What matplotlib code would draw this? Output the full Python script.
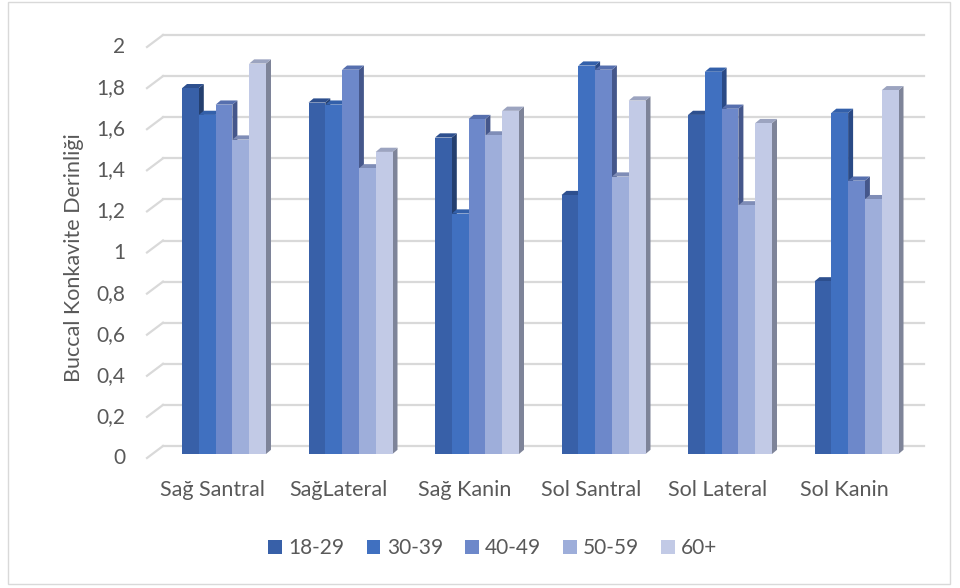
import matplotlib
matplotlib.use("Agg")
import matplotlib.pyplot as plt
from matplotlib.patches import Polygon, Rectangle, Patch
from matplotlib.lines import Line2D

plt.rcParams["font.family"] = ["Lato", "DejaVu Sans"]

# --- data -------------------------------------------------------------
categories = ["Sağ Santral", "SağLateral", "Sağ Kanin", "Sol Santral", "Sol Lateral", "Sol Kanin"]
age_groups = ["18-29", "30-39", "40-49", "50-59", "60+"]
v_18_29 = [1.78, 1.71, 1.54, 1.26, 1.65, 0.84]
v_30_39 = [1.65, 1.70, 1.17, 1.89, 1.86, 1.66]
v_40_49 = [1.70, 1.87, 1.63, 1.87, 1.68, 1.33]
v_50_59 = [1.53, 1.39, 1.55, 1.35, 1.21, 1.24]
v_60p = [1.90, 1.47, 1.67, 1.72, 1.61, 1.77]
series = [v_18_29, v_30_39, v_40_49, v_50_59, v_60p]
y_ticks = [0, 0.2, 0.4, 0.6, 0.8, 1.0, 1.2, 1.4, 1.6, 1.8, 2.0]
y_tick_labels = ["0", "0,2", "0,4", "0,6", "0,8", "1", "1,2", "1,4", "1,6", "1,8", "2"]

# --- styling ----------------------------------------------------------
front_col = ["#3860A8", "#4070C0", "#6D88CA", "#9EAEDA", "#C2CAE6"]
top_col = ["#2D4F8E", "#3360AA", "#566FAE", "#7F8DB7", "#9CA4C0"]
side_col = ["#243F6F", "#2A4A86", "#45578B", "#67729A", "#7E8499"]
text_col = "#595959"
grid_col = "#D9D9D9"
fs = 15

W, H = 960, 588
fig = plt.figure(figsize=(W / 100, H / 100), dpi=100)

# axes = plane of the bars' front faces (pixel geometry of the layout)
ax_left, ax_right = 160.75, 919.75
ax_bottom, ax_top = 454, 43
ax = fig.add_axes([ax_left / W, (H - ax_bottom) / H,
                   (ax_right - ax_left) / W, (ax_bottom - ax_top) / H])
ax.set_xlim(-0.5, len(categories) - 0.5)
ax.set_ylim(0, 2)
ax.axis("off")

px_per_x = (ax_right - ax_left) / len(categories)
px_per_y = (ax_bottom - ax_top) / 2.0

def y_px(v):
    """top-down pixel row of value v on the bar plane"""
    return ax_bottom - v * px_per_y

def fig_xy(x, y):
    return x / W, 1 - y / H

# back wall gridlines and side-wall stubs
wall_l, wall_r = 163, 924
stub_l = 147
for v, lab in zip(y_ticks, y_tick_labels):
    yb = y_px(v) - 8
    yf = y_px(v) + 4
    fig.add_artist(Line2D([wall_l / W, wall_r / W], [1 - yb / H, 1 - yb / H],
                          color=grid_col, lw=1.6, zorder=0))
    fig.add_artist(Line2D([stub_l / W, wall_l / W], [1 - yf / H, 1 - yb / H],
                          color=grid_col, lw=1.6, zorder=0))
    fig.text(*fig_xy(125, yf), lab, ha="right", va="center",
             fontsize=fs, color=text_col)

# 3D-look columns
n = len(series)
bw = 16.8 / px_per_x
ddx = 5.0 / px_per_x
ddy = 4.2 / px_per_y
for k, vals in enumerate(series):
    xs = [i + (k - (n - 1) / 2) * bw for i in range(len(categories))]
    ax.bar(xs, vals, width=bw, color=front_col[k], edgecolor="none",
           zorder=3, label=age_groups[k])
    for x, h in zip(xs, vals):
        x0, x1 = x - bw / 2, x + bw / 2
        ax.add_patch(Polygon([(x0, h), (x1, h), (x1 + ddx, h + ddy), (x0 + ddx, h + ddy)],
                             closed=True, facecolor=top_col[k], edgecolor="none", zorder=2.5))
        ax.add_patch(Polygon([(x1, 0), (x1 + ddx, ddy), (x1 + ddx, h + ddy), (x1, h)],
                             closed=True, facecolor=side_col[k], edgecolor="none", zorder=2))

# category labels
for i, c in enumerate(categories):
    ax.text(i - 12 / px_per_x, -36 / px_per_y, c, ha="center", va="center",
            fontsize=fs + 0.5, color=text_col, clip_on=False)

# axis title
fig.text(*fig_xy(74, 258), "Buccal Konkavite Derinliği", rotation=90,
         ha="center", va="center", fontsize=15.5, color=text_col)

# legend
handles = [Patch(facecolor=front_col[k], edgecolor="none") for k in range(n)]
fig.legend(handles, age_groups, loc="center", bbox_to_anchor=fig_xy(493, 548),
           ncol=n, frameon=False, fontsize=fs, labelcolor=text_col,
           handlelength=0.67, handleheight=0.67, handletextpad=0.3,
           columnspacing=1.05)

# chart border
fig.add_artist(Rectangle((8 / W, 4 / H), 942 / W, 582 / H, fill=False,
                         edgecolor=grid_col, lw=1.0))

fig.savefig("out.png", dpi=100)
